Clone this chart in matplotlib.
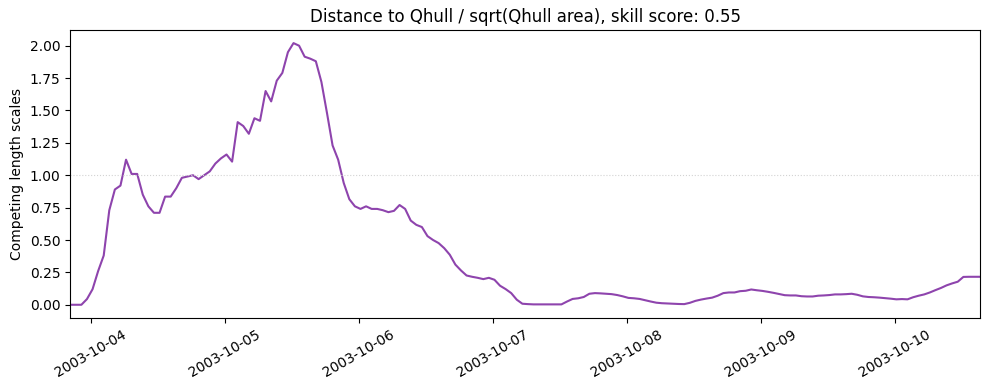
import numpy as np
import pandas as pd
import matplotlib
matplotlib.use('Agg')
import matplotlib.pyplot as plt

# hourly values, starting 2003-10-03 20:20
start_time = '2003-10-03 20:20'
values = [
    0.0, 0.0, 0.0, 0.044, 0.12, 0.26, 0.38, 0.73, 0.89, 0.92,
    1.12, 1.01, 1.01, 0.85, 0.76, 0.71, 0.71, 0.835, 0.835, 0.90,
    0.98, 0.99, 1.00, 0.97, 1.00, 1.03, 1.09, 1.13, 1.16, 1.105,
    1.41, 1.38, 1.32, 1.44, 1.42, 1.65, 1.57, 1.73, 1.79, 1.95,
    2.02, 2.00, 1.915, 1.90, 1.88, 1.72, 1.48, 1.23, 1.12, 0.94,
    0.815, 0.76, 0.74, 0.76, 0.74, 0.74, 0.73, 0.715, 0.725, 0.77,
    0.74, 0.65, 0.617, 0.60, 0.53, 0.50, 0.476, 0.437, 0.386, 0.31,
    0.265, 0.226, 0.216, 0.208, 0.198, 0.208, 0.193, 0.147, 0.121, 0.09,
    0.039, 0.008, 0.005, 0.003, 0.003, 0.003, 0.003, 0.003, 0.003, 0.025,
    0.045, 0.05, 0.06, 0.085, 0.09, 0.088, 0.085, 0.082, 0.075, 0.065,
    0.053, 0.05, 0.045, 0.035, 0.025, 0.016, 0.012, 0.01, 0.008, 0.006,
    0.005, 0.015, 0.03, 0.04, 0.048, 0.055, 0.07, 0.09, 0.095, 0.095,
    0.105, 0.108, 0.118, 0.112, 0.107, 0.10, 0.092, 0.083, 0.074, 0.072,
    0.072, 0.066, 0.064, 0.064, 0.07, 0.072, 0.075, 0.08, 0.08, 0.082,
    0.085, 0.077, 0.065, 0.06, 0.058, 0.055, 0.051, 0.047, 0.042, 0.044,
    0.042, 0.058, 0.07, 0.08, 0.095, 0.113, 0.13, 0.15, 0.165, 0.178,
    0.215, 0.216, 0.216, 0.216,
]
times = pd.date_range(start_time, periods=len(values), freq='h')
title = 'Distance to Qhull / sqrt(Qhull area), skill score: 0.55'

fig, ax = plt.subplots(figsize=(9.89, 3.9), dpi=100)
ax.plot(times, values, color='#8e44ad', lw=1.5)
ax.axhline(1.0, color='lightgray', ls=':', lw=0.8)
ax.set_xlim(times[0], times[-1])
ax.set_title(title)
ax.set_ylabel('Competing length scales')
plt.setp(ax.get_xticklabels(), rotation=30)
fig.subplots_adjust(left=0.071, right=0.991, top=0.923, bottom=0.185)
plt.savefig('out.png')
